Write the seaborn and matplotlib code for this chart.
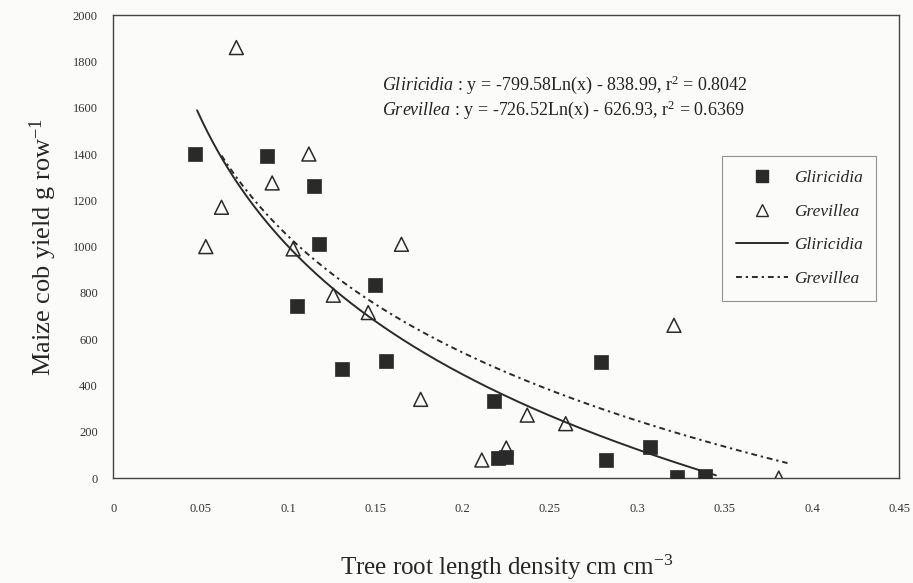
import numpy as np
import pandas as pd
import matplotlib.pyplot as plt
import seaborn as sns
from matplotlib.lines import Line2D

# valores
glir_x = [0.047, 0.088, 0.115, 0.118, 0.105, 0.150, 0.131, 0.156, 0.218, 0.220, 0.225,
          0.279, 0.282, 0.307, 0.323, 0.339]
glir_y = [1400, 1390, 1260, 1010, 745, 835, 470, 505, 333, 87, 91, 500, 78, 135, 5, 8]

grev_x = [0.0705, 0.112, 0.091, 0.062, 0.053, 0.165, 0.103, 0.126, 0.146, 0.176, 0.237,
          0.259, 0.321, 0.211, 0.225, 0.381]
grev_y = [1860, 1400, 1275, 1170, 1000, 1010, 990, 790, 715, 340, 272, 235, 660, 78, 130, 0]

# curvas de ajuste logaritmico: y = a*ln(x) + b
glir_coef = (-799.58, -838.99)
grev_coef = (-726.52, -626.93)
glir_range = (0.048, 0.345)
grev_range = (0.062, 0.386)

eq_glir = r"$\mathit{Gliricidia}$ : y = -799.58Ln(x) - 838.99, r$^2$ = 0.8042"
eq_grev = r"$\mathit{Grevillea}$ : y = -726.52Ln(x) - 626.93, r$^2$ = 0.6369"

sns.set_style('white')
plt.rcParams['font.family'] = ['Liberation Serif', 'DejaVu Serif']
plt.rcParams['mathtext.fontset'] = 'custom'
plt.rcParams['mathtext.rm'] = 'Liberation Serif'
plt.rcParams['mathtext.it'] = 'Liberation Serif:italic'

df_glir = pd.DataFrame({'x': glir_x, 'y': glir_y})
df_grev = pd.DataFrame({'x': grev_x, 'y': grev_y})

xs = np.linspace(*glir_range, 200)
fit_glir = pd.DataFrame({'x': xs, 'y': glir_coef[0] * np.log(xs) + glir_coef[1]})
xs2 = np.linspace(*grev_range, 200)
fit_grev = pd.DataFrame({'x': xs2, 'y': grev_coef[0] * np.log(xs2) + grev_coef[1]})

fig = plt.figure(figsize=(9.13, 5.83), dpi=100, facecolor='#fbfbfa')
ax = fig.add_axes([0.124, 0.18, 0.861, 0.794])
ax.set_facecolor('#fbfbfa')

cor = '#2a2a2a'
sns.lineplot(x='x', y='y', data=fit_glir, ax=ax, color=cor, lw=1.4, sort=False)
sns.lineplot(x='x', y='y', data=fit_grev, ax=ax, color=cor, lw=1.4, sort=False)
ax.lines[-1].set_dashes((3, 2, 1.2, 2))
sns.scatterplot(x='x', y='y', data=df_glir, ax=ax, marker='s', s=90, color=cor,
                edgecolor=cor, linewidth=0.5, zorder=3)
sns.scatterplot(x='x', y='y', data=df_grev, ax=ax, marker='^', s=100, facecolor='none',
                edgecolor=cor, linewidth=1.1, zorder=3)

ax.set_xlim(0, 0.45)
ax.set_ylim(0, 2000)
ax.set_xticks(np.arange(0, 0.451, 0.05))
ax.set_xticklabels(['0', '0.05', '0.1', '0.15', '0.2', '0.25', '0.3', '0.35', '0.4', '0.45'])
ax.set_yticks(range(0, 2001, 200))
ax.tick_params(axis='both', direction='out', length=4, width=0.8, labelsize=9,
               colors='#333333', pad=7)
ax.tick_params(axis='x', pad=14)
for s in ax.spines.values():
    s.set_color('#444444')
    s.set_linewidth(1.0)

ax.set_xlabel('Tree root length density cm cm$^{-3}$', fontsize=18, labelpad=27)
ax.set_ylabel('Maize cob yield g row$^{-1}$', fontsize=19, labelpad=10)

ax.text(0.1536, 1700, eq_glir, fontsize=13, va='center', color='#222222')
ax.text(0.1536, 1592, eq_grev, fontsize=13, va='center', color='#222222')

handles = [
    Line2D([], [], marker='s', color=cor, ls='none', markersize=8),
    Line2D([], [], marker='^', color=cor, mfc='none', ls='none', markersize=8),
    Line2D([], [], color=cor, lw=1.4),
    Line2D([], [], color=cor, lw=1.4, dashes=(3, 2, 1.2, 2)),
]
labels = ['Gliricidia', 'Grevillea', 'Gliricidia', 'Grevillea']
leg = ax.legend(handles, labels, loc='upper left', bbox_to_anchor=(0.775, 0.695),
                prop={'style': 'italic', 'size': 12.5}, frameon=True, fancybox=False,
                edgecolor='#777777', labelspacing=1.0, borderpad=0.8, handlelength=3.0,
                handletextpad=0.3, borderaxespad=0)
leg.get_frame().set_facecolor('#fbfbfa')
leg.get_frame().set_linewidth(0.8)

plt.savefig('out.png', dpi=100, facecolor=fig.get_facecolor())
